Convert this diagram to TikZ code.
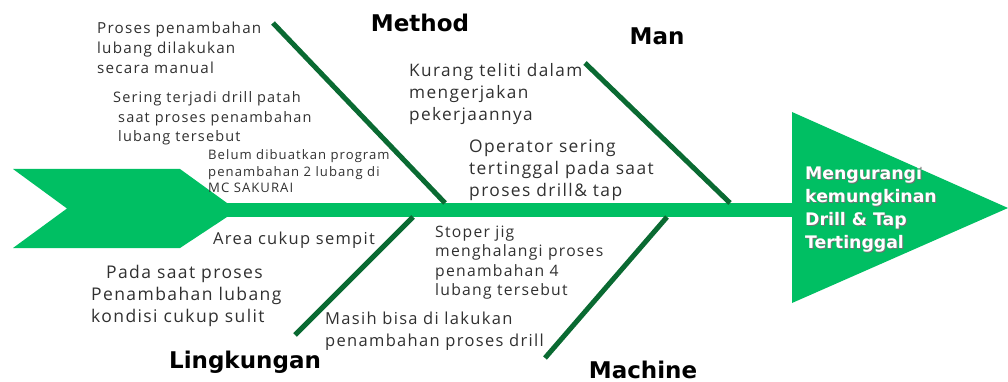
\documentclass[tikz,border=0pt]{standalone}
\usepackage{fontspec}
\setmainfont{Open Sans}[LetterSpace=8]
\newfontfamily\headfont{DejaVu Sans}
\definecolor{fishgreen}{RGB}{0,191,99}
\definecolor{bonegreen}{RGB}{10,106,50}
\definecolor{txtgray}{RGB}{48,48,48}
\begin{document}
\begin{tikzpicture}[x=1pt,y=-1pt,
  bone/.style={draw=bonegreen,line width=5pt},
  cause/.style 2 args={anchor=base west,inner sep=0pt,align=left,text=txtgray,font=\fontsize{#1}{#2}\selectfont},
  cat/.style={anchor=base,inner sep=0pt,font=\headfont\bfseries\fontsize{23}{26}\selectfont},
  headtxt/.style={anchor=base west,inner sep=0pt,align=left,font=\headfont\bfseries\fontsize{17.3}{22.7}\selectfont}]
\useasboundingbox (0,0) rectangle (1008,382);
% tail
\fill[fishgreen] (13,169) -- (180,169) -- (227,203) -- (227,217) -- (180,248) -- (13,248) -- (67,208.5) -- cycle;
% spine
\fill[fishgreen] (220,203) rectangle (800,217);
% head
\fill[fishgreen] (792,112) -- (1008,208) -- (792,303) -- cycle;
% bones
\coordinate (m1) at (273,23);  \coordinate (m2) at (445,203);
\coordinate (n1) at (585,63);  \coordinate (n2) at (730,203);
\coordinate (l1) at (413,217); \coordinate (l2) at (295,335);
\coordinate (c1) at (667,217); \coordinate (c2) at (545,358);
\draw[bone] (m1) -- (m2);
\draw[bone] (n1) -- (n2);
\draw[bone] (l1) -- (l2);
\draw[bone] (c1) -- (c2);
% categories
\node[cat] (method) at (420,32) {Method};
\node[cat] (man) at (657,45) {Man};
\node[cat] (ling) at (245,368) {Lingkungan};
\node[cat,text depth=0pt] (mach) at (643,378) {Machine};
% head text with shadow (anchor = last baseline)
\node[headtxt,text=black!55] (effsh) at (806,249) {Mengurangi\\kemungkinan\\Drill \& Tap\\Tertinggal};
\node[headtxt,text=white] (eff) at (805,248) {Mengurangi\\kemungkinan\\Drill \& Tap\\Tertinggal};
% causes (anchor = last baseline)
\node[cause={15.2}{20}] (t1) at (97,73.5) {Proses penambahan\\lubang dilakukan\\secara manual};
\node[cause={14.5}{19.5}] (t2) at (113,142) {Sering terjadi drill patah\\\hspace*{5pt}saat proses penambahan\\\hspace*{5pt}lubang tersebut};
\node[cause={13.1}{16.5}] (t3) at (208,192.5) {Belum dibuatkan program\\penambahan 2 lubang di\\MC SAKURAI};
\node[cause={17.2}{21.8}] (t4) at (409,120.5) {Kurang teliti dalam\\mengerjakan\\pekerjaannya};
\node[cause={17.4}{22}] (t5) at (469,196.5) {Operator sering\\tertinggal pada saat\\proses drill\& tap};
\node[cause={16.5}{20}] (t6) at (213,244) {Area cukup sempit};
\node[cause={17.5}{22}] (t7) at (91,322) {\hspace*{15pt}Pada saat proses\\Penambahan lubang\\kondisi cukup sulit};
\node[cause={15.7}{19.5}] (t8) at (435,295.5) {Stoper jig\\menghalangi proses\\penambahan 4\\lubang tersebut};
\node[cause={16.5}{22}] (t9) at (325,346) {Masih bisa di lakukan\\penambahan proses drill};
\end{tikzpicture}
\end{document}
